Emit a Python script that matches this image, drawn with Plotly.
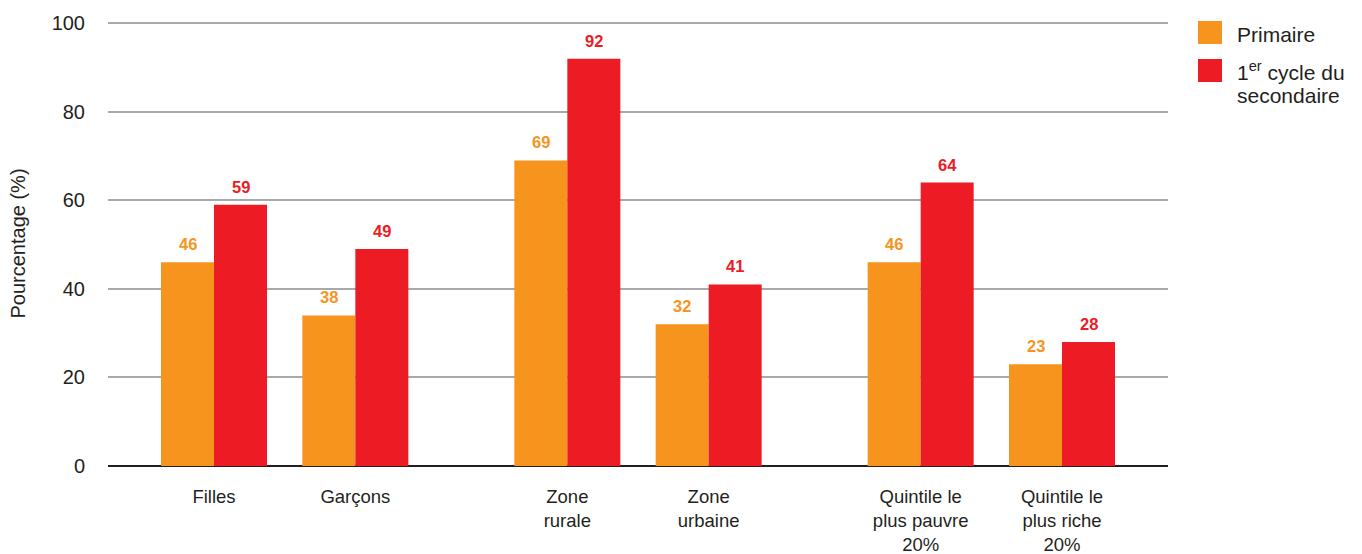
import plotly.graph_objects as go

# Data
groups = [
    ["Filles", "Garçons"],
    ["Zone<br>rurale", "Zone<br>urbaine"],
    ["Quintile le<br>plus pauvre<br>20%", "Quintile le<br>plus riche<br>20%"],
]
series_names = ["Primaire", "1<sup>er</sup> cycle du secondaire"]
primaire = [46, 34, 69, 32, 46, 23]
primaire_labels = ["46", "38", "69", "32", "46", "23"]
secondaire = [59, 49, 92, 41, 64, 28]
secondaire_labels = ["59", "49", "92", "41", "64", "28"]
y_ticks = [0, 20, 40, 60, 80, 100]

ORANGE = "#F7941D"
RED = "#ED1C24"
TXT = "#231F20"
FONT = "Liberation Sans, Arial, sans-serif"

# figure geometry (pixels)
W, HGT = 1362, 554
L, R, T, B = 108, 1168, 21, 466
PW, PH = R - L, B - T

# category positions with half-category gap between groups
categories = []
xpos = []
pos = 0.0
for gi, g in enumerate(groups):
    if gi > 0:
        pos += 0.5
    for c in g:
        categories.append(c)
        xpos.append(pos)
        pos += 1.0

BARGAP = 0.25
bar_w = (1 - BARGAP) / 2

fig = go.Figure()
for vals, col, name in [(primaire, ORANGE, series_names[0]),
                        (secondaire, RED, series_names[1])]:
    fig.add_trace(go.Bar(x=xpos, y=vals, name=name, marker_color=col,
                         marker_line_width=0, showlegend=False, hoverinfo="skip"))

# value labels
for vals, labels, col, sign in [(primaire, primaire_labels, ORANGE, -1),
                                (secondaire, secondaire_labels, RED, 1)]:
    for xp, v, lbl in zip(xpos, vals, labels):
        fig.add_annotation(x=xp + sign * bar_w / 2, y=v, text=lbl, showarrow=False,
                           xanchor="center", yanchor="bottom", yshift=7,
                           font=dict(size=16.5, family=FONT, color=col, weight="bold"))

fig.update_layout(
    width=W, height=HGT,
    margin=dict(l=L, r=W - R, t=T, b=HGT - B, autoexpand=False),
    paper_bgcolor="white", plot_bgcolor="white",
    barmode="group", bargap=BARGAP, bargroupgap=0,
    font=dict(family=FONT, size=19, color=TXT),
    showlegend=False,
)
fig.update_xaxes(
    tickmode="array", tickvals=xpos, ticktext=categories,
    range=[-0.75, xpos[-1] + 0.75],
    showgrid=False, zeroline=False, showline=False, automargin=False,
    ticks="outside", ticklen=14, tickcolor="rgba(0,0,0,0)",
    tickfont=dict(size=18.5, color=TXT),
)
fig.update_yaxes(
    range=[0, 100.5], tickvals=y_ticks, automargin=False,
    showgrid=True, gridcolor="#A7A9AC", gridwidth=2,
    zeroline=True, zerolinecolor=TXT, zerolinewidth=2,
    showline=False, ticks="", ticklabelstandoff=22,
    tickfont=dict(size=20, color=TXT),
    title=dict(text="Pourcentage (%)", font=dict(size=20, color=TXT), standoff=20),
)

def px_x(p):
    return (p - L) / PW

def px_y(p):
    return (B - p) / PH

# manual legend
legend_squares = [(ORANGE, 21, 44), (RED, 59, 82)]
for col, y0, y1 in legend_squares:
    fig.add_shape(type="rect", xref="paper", yref="paper",
                  x0=px_x(1198), x1=px_x(1222), y0=px_y(y1), y1=px_y(y0),
                  fillcolor=col, line_width=0)
legend_lines = [("Primaire", 34), ("1<sup>er</sup> cycle du", 71), ("secondaire", 95)]
for txt, yc in legend_lines:
    fig.add_annotation(xref="paper", yref="paper", x=px_x(1235), y=px_y(yc),
                       text=txt, showarrow=False, xanchor="left", yanchor="middle",
                       align="left", font=dict(size=21, family=FONT, color=TXT))

fig.write_html("out.html", config={"displayModeBar": False},
               post_script="document.body.style.margin='0px';")
